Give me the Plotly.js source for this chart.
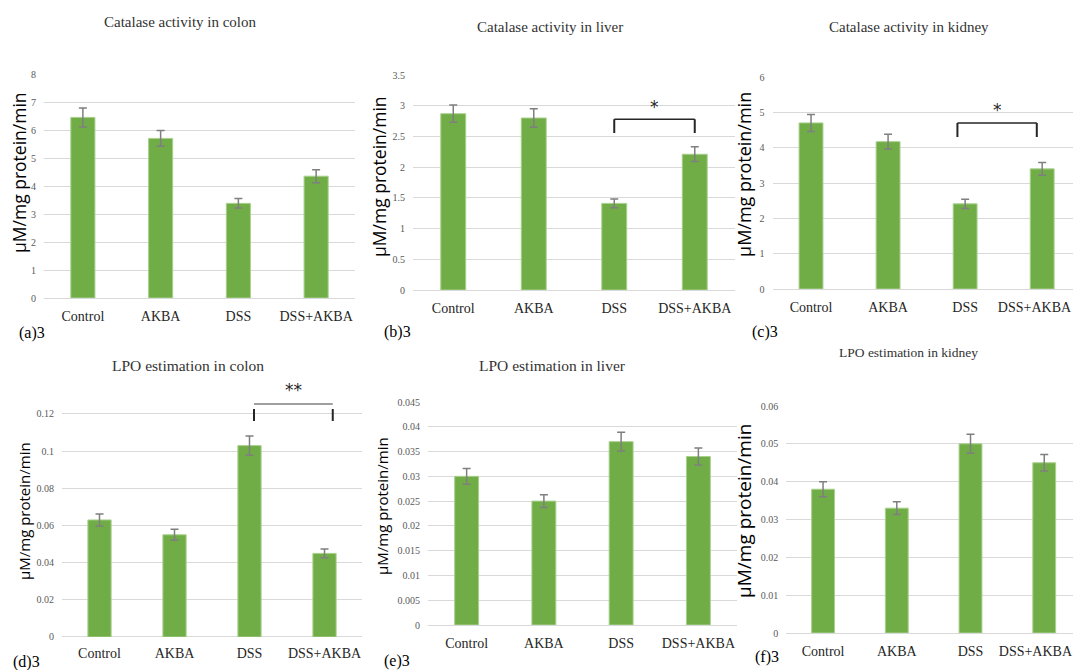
<!DOCTYPE html>
<html><head><meta charset="utf-8">
<script src="https://cdn.plot.ly/plotly-3.0.1.min.js"></script>
<style>html,body{margin:0;padding:0;background:#fff}#chart{width:1073px;height:670px}</style>
</head><body><div id="chart"></div>
<script>
// ---------- data ----------
const categories = ['Control', 'AKBA', 'DSS', 'DSS+AKBA'];

const catalaseColon = [6.45, 5.70, 3.38, 4.35];
const catalaseColonErr = [0.34, 0.28, 0.17, 0.23];
const catalaseLiver = [2.87, 2.80, 1.41, 2.21];
const catalaseLiverErr = [0.14, 0.15, 0.07, 0.12];
const catalaseKidney = [4.70, 4.17, 2.41, 3.40];
const catalaseKidneyErr = [0.24, 0.21, 0.13, 0.18];
const lpoColon = [0.063, 0.055, 0.103, 0.045];
const lpoColonErr = [0.0032, 0.003, 0.0052, 0.0023];
const lpoLiver = [0.030, 0.025, 0.037, 0.034];
const lpoLiverErr = [0.0016, 0.0013, 0.0019, 0.0017];
const lpoKidney = [0.038, 0.033, 0.050, 0.045];
const lpoKidneyErr = [0.002, 0.0017, 0.0025, 0.0022];

const ticksCatColon = [0, 1, 2, 3, 4, 5, 6, 7, 8];
const ticksCatLiver = [0, 0.5, 1, 1.5, 2, 2.5, 3, 3.5];
const ticksCatKidney = [0, 1, 2, 3, 4, 5, 6];
const ticksLpoColon = [0, 0.02, 0.04, 0.06, 0.08, 0.1, 0.12];
const ticksLpoLiver = [0, 0.005, 0.01, 0.015, 0.02, 0.025, 0.03, 0.035, 0.04, 0.045];
const ticksLpoKidney = [0, 0.01, 0.02, 0.03, 0.04, 0.05, 0.06];

const panelTitles = ['Catalase activity in colon', 'Catalase activity in liver', 'Catalase activity in kidney',
                     'LPO estimation in colon', 'LPO estimation in liver', 'LPO estimation in kidney'];
const panelLabels = ['(a)3', '(b)3', '(c)3', '(d)3', '(e)3', '(f)3'];
const yTitle = 'μM/mg protein/min';

// significance brackets: panel index, from category, to category, bracket level, tick bottom, star level, star text
const sigPanel = [1, 2, 3];
const sigFrom = [2, 1.9, 2.06];
const sigTo = [3, 2.93, 3.11];
const sigTop = [2.78, 4.70, 0.1254];
const sigBottom = [2.556, 4.30, 0.1163];
const sigStarY = [2.98, 5.07, 0.1329];
const sigText = ['*', '*', '**'];

// ---------- layout (pixel geometry) ----------
const W = 1073, H = 670;
const panels = [
  {vals: catalaseColon, err: catalaseColonErr, ticks: ticksCatColon, x0: 44, x1: 355, xr: [-0.5, 3.5], yzero: 298, ppu: 28, ymax: 8,
   title: [180, 22, 15], ytitle: [19, 173, 17.5], label: [32, 333], stand: 8, lastShift: 0},
  {vals: catalaseLiver, err: catalaseLiverErr, ticks: ticksCatLiver, x0: 413, x1: 735, xr: [-0.5, 3.5], yzero: 290, ppu: 215 / 3.5, ymax: 3.5,
   title: [550, 27, 15], ytitle: [379, 177, 17.5], label: [397, 332], stand: 8, lastShift: 0},
  {vals: catalaseKidney, err: catalaseKidneyErr, ticks: ticksCatKidney, x0: 772.5, x1: 1073, xr: [-0.5, 3.4], yzero: 289, ppu: 212 / 6, ymax: 6,
   title: [909, 27, 15], ytitle: [744, 175, 18], label: [765, 332], stand: 8, lastShift: 0.1},
  {vals: lpoColon, err: lpoColonErr, ticks: ticksLpoColon, x0: 62, x1: 362, xr: [-0.5, 3.5], yzero: 637, ppu: 223 / 0.12, ymax: 0.136,
   title: [188, 365, 15.5], ytitle: [24, 511, 15], label: [26, 662], stand: 6, lastShift: 0},
  {vals: lpoLiver, err: lpoLiverErr, ticks: ticksLpoLiver, x0: 428, x1: 737, xr: [-0.5, 3.5], yzero: 625, ppu: 223 / 0.045, ymax: 0.045,
   title: [552, 365, 15.5], ytitle: [382, 506, 15], label: [397, 661], stand: 8, lastShift: 0},
  {vals: lpoKidney, err: lpoKidneyErr, ticks: ticksLpoKidney, x0: 786.2, x1: 1073, xr: [-0.5, 3.39], yzero: 633, ppu: 227 / 0.06, ymax: 0.06,
   title: [908, 352, 13.5], ytitle: [744, 511, 19], label: [767, 657], stand: 8, lastShift: 0.12}
];

const data = [];
const layout = {
  width: W, height: H, margin: {l: 0, r: 0, t: 0, b: 0}, showlegend: false,
  paper_bgcolor: '#ffffff', plot_bgcolor: 'rgba(0,0,0,0)',
  annotations: [], shapes: []
};

panels.forEach((p, i) => {
  const s = i === 0 ? '' : String(i + 1);
  data.push({
    type: 'bar', x: categories, y: p.vals, xaxis: 'x' + s, yaxis: 'y' + s, width: 0.31,
    marker: {color: '#70AD47', line: {color: '#A9D18E', width: 1}},
    error_y: {type: 'data', array: p.err, visible: true, color: '#7F7F7F', thickness: 1.5, width: 4},
    hoverinfo: 'skip'
  });
  const ytop = p.yzero - p.ymax * p.ppu;
  // category index positions; the last label is nudged inward at the page edge, as in the reference
  const tickPos = categories.map((c, j) => j === categories.length - 1 ? j - p.lastShift : j);
  layout['xaxis' + s] = {
    domain: [p.x0 / W, p.x1 / W], range: p.xr, type: 'category', anchor: 'y' + s,
    tickmode: 'array', tickvals: tickPos, ticktext: categories,
    showgrid: false, zeroline: false, showline: false, ticks: '',
    tickfont: {family: 'Liberation Serif', size: 14, color: '#262626'}, ticklabelstandoff: p.stand
  };
  layout['yaxis' + s] = {
    domain: [1 - p.yzero / H, 1 - ytop / H], range: [0, p.ymax], anchor: 'x' + s,
    tickvals: p.ticks, ticktext: p.ticks.map(String),
    showgrid: true, gridcolor: '#D9D9D9', gridwidth: 1,
    zeroline: true, zerolinecolor: '#D9D9D9', zerolinewidth: 1, showline: false, ticks: '',
    tickfont: {family: 'Liberation Serif', size: 10, color: '#595959'}, ticklabelstandoff: 7
  };
  layout.annotations.push({
    text: panelTitles[i], xref: 'paper', yref: 'paper', x: p.title[0] / W, y: 1 - p.title[1] / H,
    xanchor: 'center', yanchor: 'middle', showarrow: false,
    font: {family: 'Liberation Serif', size: p.title[2], color: '#333333'}
  });
  layout.annotations.push({
    text: yTitle, xref: 'paper', yref: 'paper', x: p.ytitle[0] / W, y: 1 - p.ytitle[1] / H,
    xanchor: 'center', yanchor: 'middle', textangle: -90, showarrow: false,
    font: {family: 'Open Sans', size: p.ytitle[2], color: '#000000'}
  });
  layout.annotations.push({
    text: panelLabels[i], xref: 'paper', yref: 'paper', x: p.label[0] / W, y: 1 - p.label[1] / H,
    xanchor: 'center', yanchor: 'middle', showarrow: false,
    font: {family: 'Liberation Serif', size: 16, color: '#000000'}
  });
});

sigPanel.forEach((pi, k) => {
  const s = pi === 0 ? '' : String(pi + 1);
  const xr = 'x' + s, yr = 'y' + s;
  const hcol = pi === 3 ? '#7F7F7F' : '#262626';
  const vcol = '#262626';
  layout.shapes.push({type: 'line', xref: xr, yref: yr, x0: sigFrom[k], x1: sigTo[k], y0: sigTop[k], y1: sigTop[k], line: {color: hcol, width: 1.6}});
  const vTop = pi === 3 ? sigTop[k] - (sigTop[k] - sigBottom[k]) * 0.3 : sigTop[k];
  layout.shapes.push({type: 'line', xref: xr, yref: yr, x0: sigFrom[k], x1: sigFrom[k], y0: vTop, y1: sigBottom[k], line: {color: vcol, width: 2}});
  layout.shapes.push({type: 'line', xref: xr, yref: yr, x0: sigTo[k], x1: sigTo[k], y0: vTop, y1: sigBottom[k], line: {color: vcol, width: 2}});
  layout.annotations.push({
    text: sigText[k], xref: xr, yref: yr, x: (sigFrom[k] + sigTo[k]) / 2, y: sigStarY[k],
    xanchor: 'center', yanchor: 'middle', showarrow: false,
    font: {family: 'DejaVu Sans', size: 17, color: '#262626'}
  });
});

Plotly.newPlot('chart', data, layout, {staticPlot: true, displayModeBar: false});
</script>
</body></html>
